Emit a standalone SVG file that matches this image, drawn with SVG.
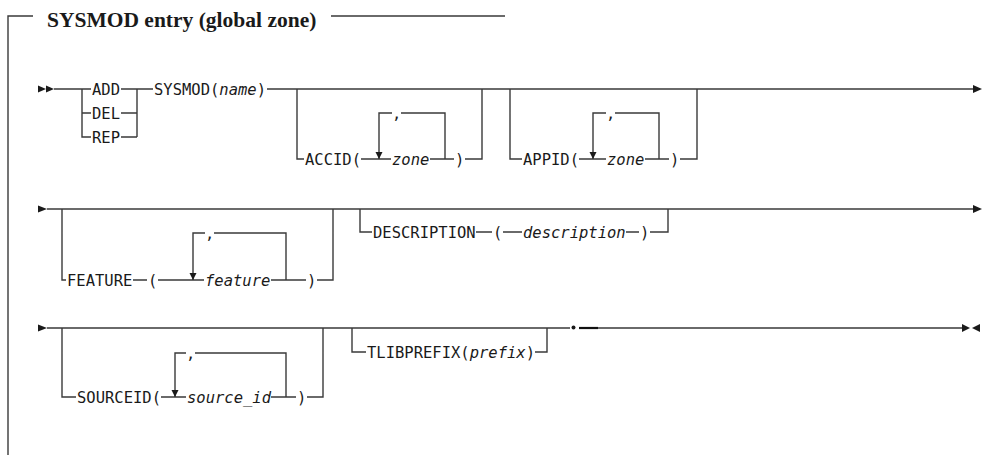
<svg xmlns="http://www.w3.org/2000/svg" width="1005" height="456" viewBox="0 0 1005 456">
<style>
.ln{stroke:#3a3a3a;stroke-width:1.4;fill:none}
.t{font-family:"DejaVu Sans Mono","Liberation Mono",monospace;font-size:15.5px;fill:#1a1a1a}
.i{font-style:italic}
.ttl{font-family:"Liberation Serif","Times New Roman",serif;font-size:21.5px;font-weight:bold;fill:#1a1a1a}
.ah{fill:#1a1a1a}
</style>
<defs>
<polygon id="down" points="-3.5,-7 3.5,-7 0,0" class="ah"/>
</defs>
<rect width="1005" height="456" fill="#fff"/>
<g id="frame">
<path class="ln" d="M8,455 V16 H33 M331,16 H505"/>
<text class="ttl" x="47" y="27">SYSMOD entry (global zone)</text>
</g>
<g id="connectors">
<!-- row 1 -->
<polygon class="ah" points="38,85.5 46,89 38,92.5"/>
<polygon class="ah" points="46,85.5 54,89 46,92.5"/>
<path class="ln" d="M54,89 H91 M82,89 V137 H91 M82,113 H91 M121,89 H153 M121,113 H137 M121,137 H137 M137,89 V137 M267,89 H974"/>
<polygon class="ah" points="973,85 982,89 973,93"/>
<!-- ACCID -->
<path class="ln" d="M297,89 V159 H304 M361,159 H391 M430,159 H454 M465,159 H482 V89 M379,159 V113 H392 M401,113 H445 V159"/>
<use href="#down" x="379" y="159"/>
<!-- APPID -->
<path class="ln" d="M510,89 V159 H522 M579,159 H606 M645,159 H669 M680,159 H697 V89 M593,159 V113 H606 M615,113 H659 V159"/>
<use href="#down" x="593" y="159"/>
<!-- row 2 -->
<polygon class="ah" points="38,205.5 47,209 38,212.5"/>
<path class="ln" d="M47,209 H974"/>
<polygon class="ah" points="973,205 982,209 973,213"/>
<path class="ln" d="M62,209 V280 H66 M133,280 H147 M158,280 H204 M271,280 H306 M317,280 H333 V209 M193,280 V233 H205 M214,233 H286 V280"/>
<use href="#down" x="193" y="280"/>
<path class="ln" d="M360,209 V232 H372 M476,232 H492 M503,232 H522 M626,232 H639 M650,232 H668 V209"/>
<!-- row 3 -->
<polygon class="ah" points="38,324.5 47,328 38,331.5"/>
<path class="ln" d="M47,328 H570 M579,328 H963"/>
<path d="M579,328 H598" stroke="#111" stroke-width="2.2"/>
<circle cx="573.5" cy="327.5" r="2" class="ah"/>
<polygon class="ah" points="962,324 970,328 962,332"/>
<polygon class="ah" points="980,324 972,328 980,332"/>
<path class="ln" d="M62,328 V397 H76 M161,397 H186 M271,397 H296 M307,397 H323 V328 M175,397 V353 H186 M195,353 H286 V397"/>
<use href="#down" x="175" y="397"/>
<path class="ln" d="M352,328 V352 H366 M535,352 H547 V328"/>
</g>
<g id="n-add"><text class="t" x="92" y="94.5">ADD</text></g>
<g id="n-del"><text class="t" x="92" y="118.5">DEL</text></g>
<g id="n-rep"><text class="t" x="92" y="142.5">REP</text></g>
<g id="n-sysmod"><text class="t" x="154" y="94.5">SYSMOD(<tspan class="i">name</tspan>)</text></g>
<g id="n-accid">
<text class="t" x="305" y="164.5">ACCID(</text>
<text class="t i" x="392" y="164.5">zone</text>
<text class="t" x="455" y="164.5">)</text>
<text class="t" x="392" y="118.5">,</text>
</g>
<g id="n-appid">
<text class="t" x="523" y="164.5">APPID(</text>
<text class="t i" x="607" y="164.5">zone</text>
<text class="t" x="670" y="164.5">)</text>
<text class="t" x="606" y="118.5">,</text>
</g>
<g id="n-feature">
<text class="t" x="67" y="285.5">FEATURE</text>
<text class="t" x="148" y="285.5">(</text>
<text class="t i" x="205" y="285.5">feature</text>
<text class="t" x="307" y="285.5">)</text>
<text class="t" x="205" y="238.5">,</text>
</g>
<g id="n-description">
<text class="t" x="373" y="237.5">DESCRIPTION</text>
<text class="t" x="493" y="237.5">(</text>
<text class="t i" x="523" y="237.5">description</text>
<text class="t" x="640" y="237.5">)</text>
</g>
<g id="n-sourceid">
<text class="t" x="77" y="402.5">SOURCEID(</text>
<text class="t i" x="187" y="402.5">source_id</text>
<text class="t" x="297" y="402.5">)</text>
<text class="t" x="186" y="358.5">,</text>
</g>
<g id="n-tlibprefix">
<text class="t" x="367" y="357.5">TLIBPREFIX(<tspan class="i">prefix</tspan>)</text>
</g>
</svg>
